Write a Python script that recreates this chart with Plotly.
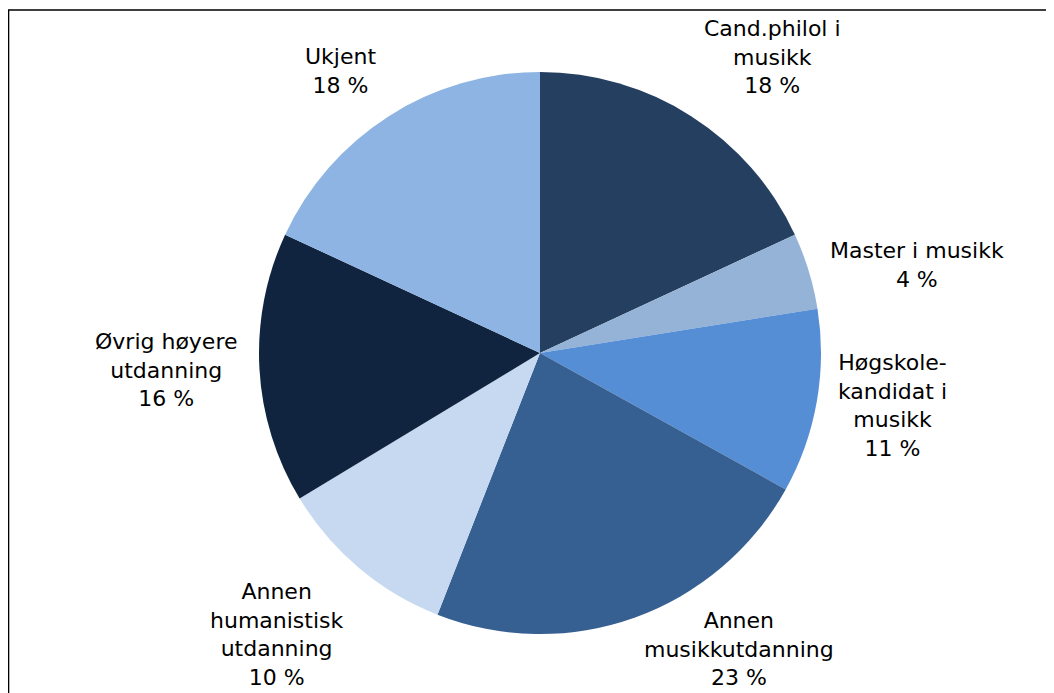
import math
import plotly.graph_objects as go

# slice data, clockwise from 12 o'clock
labels = ["Cand.philol i<br>musikk", "Master i musikk", "Høgskole-<br>kandidat i<br>musikk",
          "Annen<br>musikkutdanning", "Annen<br>humanistisk<br>utdanning",
          "Øvrig høyere<br>utdanning", "Ukjent"]
values = [18.1, 4.4, 10.6, 22.9, 10.4, 15.6, 18.1]
colors = ["#253F60", "#95B3D7", "#558ED5", "#376092", "#C6D9F1", "#10243F", "#8EB4E3"]

# figure geometry (page body adds an 8px margin)
W, H = 1046, 685
M = dict(l=100, r=82, t=64, b=59)
PW, PH = W - M["l"] - M["r"], H - M["t"] - M["b"]
R = min(PW, PH) / 2
FS = 22
LINE_H = FS * 1.3

fig = go.Figure()
fig.add_trace(go.Pie(
    labels=labels, values=values,
    sort=False, direction="clockwise", rotation=0,
    marker=dict(colors=colors, line=dict(width=0)),
    textinfo="none", hoverinfo="label+percent",
    showlegend=False,
))

# excel-style outside labels: box corner sits on a ring just outside the pie
total = sum(values)
limit = H - M["t"] - PH / 2 - 1                      # px below centre, chart bottom
cum = 0.0
for lab, v in zip(labels, values):
    theta = 2 * math.pi * (cum + v / 2) / total
    cum += v
    s, c = math.sin(theta), math.cos(theta)
    dx, dy = 1.07 * R * s, -1.07 * R * c          # pixels, screen y down
    xa = "left" if s > 0.3 else ("right" if s < -0.3 else "center")
    ya = "bottom" if c > 0.5 else ("top" if c < -0.5 else "middle")
    text = f"{lab}<br>{round(v)} %"
    nlines = text.count("<br>") + 1
    # keep the label inside the chart area at the bottom
    if ya == "top" and dy + nlines * LINE_H > limit:
        dy, ya = limit, "bottom"
    fig.add_annotation(
        x=0.5 + dx / PW, y=0.5 - dy / PH, xref="paper", yref="paper",
        xanchor=xa, yanchor=ya, text=text, showarrow=False, align="center",
        font=dict(family="DejaVu Sans", size=FS, color="#000000"),
    )

# outer frame of the chart
fig.add_shape(type="rect", xref="paper", yref="paper",
              x0=-0.1151, x1=1.094, y0=-0.3, y1=1.1103,
              line=dict(color="#000000", width=1.5))

fig.update_layout(
    width=W, height=H,
    paper_bgcolor="#FFFFFF",
    margin=M,
    font=dict(family="DejaVu Sans"),
)

fig.write_html("out.html", config={"displayModeBar": False})
